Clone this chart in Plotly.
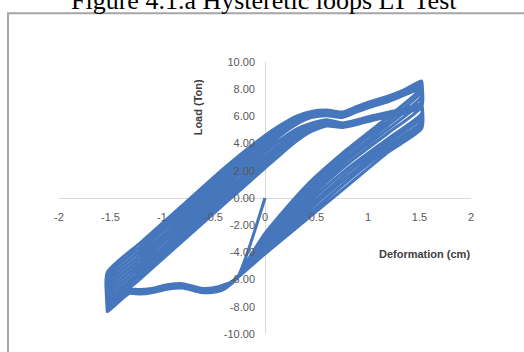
import plotly.graph_objects as go

# ---------------- data ----------------
init_x = [0.0, -0.27]
init_y = [0.0, -5.88]

# lower (negative) wave, shared x
low_x = [-0.4, -0.5, -0.62, -0.8, -0.95, -1.1, -1.22, -1.32]
low_y = [
    [-6.71, -6.92, -6.95, -6.62, -6.70, -6.97, -7.06, -7.02],
    [-6.67, -6.88, -6.92, -6.56, -6.68, -6.93, -7.03, -6.97],
    [-6.64, -6.84, -6.90, -6.54, -6.63, -6.88, -6.99, -6.95],
    [-6.60, -6.81, -6.85, -6.51, -6.60, -6.86, -6.95, -6.90],
    [-6.57, -6.77, -6.83, -6.47, -6.57, -6.82, -6.93, -6.87],
    [-6.53, -6.74, -6.78, -6.44, -6.54, -6.78, -6.88, -6.83],
    [-6.50, -6.70, -6.76, -6.40, -6.50, -6.76, -6.85, -6.80],
    [-6.46, -6.67, -6.71, -6.37, -6.46, -6.71, -6.82, -6.76],
    [-6.43, -6.63, -6.69, -6.33, -6.44, -6.68, -6.78, -6.73],
    [-6.39, -6.60, -6.64, -6.30, -6.39, -6.65, -6.74, -6.69],
]
left_tip_x = -1.53
left_peak = [-8.36, -8.20, -8.05, -7.90, -7.75, -7.60, -7.45, -7.30, -7.15, -7.00]

# upward branches (first value = relaxed load at left tip, last = right peak)
up_x = [-1.53, -1.2, -0.8, -0.4, 0.0, 0.15, 0.3, 0.45, 0.6, 0.75, 0.9, 1.05, 1.2, 1.35, 1.52]
up_y = [
    [-8.10, -5.87, -3.17, -0.47, 2.20, 3.20, 4.15, 4.90, 5.30, 5.18, 5.42, 5.72, 5.98, 6.22, 6.50],
    [-7.80, -5.57, -2.87, -0.17, 2.50, 3.50, 4.40, 5.05, 5.40, 5.26, 5.50, 5.80, 6.05, 6.30, 6.60],
    [-7.55, -5.32, -2.62, 0.08, 2.75, 3.75, 4.60, 5.20, 5.50, 5.34, 5.58, 5.88, 6.13, 6.38, 6.70],
    [-7.25, -5.02, -2.32, 0.38, 3.05, 4.00, 4.82, 5.35, 5.62, 5.43, 5.67, 5.97, 6.22, 6.47, 6.80],
    [-6.95, -4.72, -2.02, 0.68, 3.35, 4.28, 5.05, 5.50, 5.75, 5.52, 5.76, 6.06, 6.31, 6.56, 6.90],
    [-6.65, -4.42, -1.72, 0.98, 3.62, 4.60, 5.40, 5.92, 6.06, 5.92, 6.35, 6.75, 7.10, 7.55, 8.00],
    [-6.35, -4.12, -1.42, 1.28, 3.90, 4.82, 5.55, 6.03, 6.16, 6.02, 6.45, 6.85, 7.20, 7.65, 8.15],
    [-6.05, -3.82, -1.12, 1.58, 4.15, 5.02, 5.70, 6.14, 6.26, 6.12, 6.55, 6.95, 7.30, 7.75, 8.30],
    [-5.75, -3.52, -0.82, 1.88, 4.40, 5.20, 5.85, 6.25, 6.36, 6.22, 6.65, 7.05, 7.40, 7.85, 8.45],
    [-5.45, -3.22, -0.52, 2.18, 4.60, 5.36, 6.00, 6.36, 6.46, 6.32, 6.75, 7.15, 7.50, 7.95, 8.60],
]

# downward branches (first value = relaxed load at right tip)
down_x = [1.52, 1.2, 0.8, 0.4, 0.0, -0.28]
down_y = [
    [5.10, 3.40, 0.90, -1.60, -4.10, -5.95],
    [5.35, 3.65, 1.25, -1.35, -3.95, -5.92],
    [5.60, 3.90, 1.55, -1.05, -3.80, -5.90],
    [5.90, 4.15, 1.85, -0.80, -3.65, -5.88],
    [6.20, 4.40, 2.15, -0.50, -3.50, -5.90],
    [6.70, 4.80, 2.50, -0.20, -3.30, -5.92],
    [7.10, 5.10, 2.80, 0.05, -3.15, -5.94],
    [7.45, 5.40, 3.05, 0.35, -3.00, -5.96],
    [7.80, 5.70, 3.35, 0.60, -2.80, -5.98],
    [8.10, 6.00, 3.60, 0.90, -2.60, -6.00],
]

x_ticks = [-2, -1.5, -1, -0.5, 0, 0.5, 1, 1.5, 2]
y_ticks = [-10, -8, -6, -4, -2, 0, 2, 4, 6, 8, 10]

# ---------------- assemble the continuous test path ----------------
xs = list(init_x)
ys = list(init_y)
for i in range(len(up_y)):
    xs += low_x + [left_tip_x]
    ys += low_y[i] + [left_peak[i]]
    xs += up_x
    ys += up_y[i]
    xs += down_x
    ys += down_y[i]

BLUE = "#4677BD"
fig = go.Figure()
fig.add_trace(go.Scatter(x=xs, y=ys, mode="lines",
                         line=dict(color=BLUE, width=3.1, shape="spline", smoothing=0.6),
                         hoverinfo="skip", showlegend=False))

W, H = 524, 352
L, R, T, B = 59, 53, 62, 14
pw, ph = W - L - R, H - T - B


def px(p):
    return (p - L) / pw


def py(p):
    return (H - B - p) / ph


fig.update_layout(
    width=W, height=H,
    margin=dict(l=L, r=R, t=T, b=B),
    paper_bgcolor="white", plot_bgcolor="white",
    showlegend=False,
    xaxis=dict(range=[-2, 2], tickvals=x_ticks, ticktext=[f"{v:g}" for v in x_ticks],
               anchor="free", position=0.5, showgrid=False, showline=False,
               zeroline=True, zerolinecolor="#d9d9d9", zerolinewidth=1.2,
               ticks="", ticklabelstandoff=11,
               tickfont=dict(family="Liberation Sans", size=11, color="#595959")),
    yaxis=dict(range=[-10, 10], tickvals=y_ticks, ticktext=[f"{v:.2f}" for v in y_ticks],
               anchor="free", position=0.5, showgrid=False, showline=False,
               zeroline=True, zerolinecolor="#d9d9d9", zerolinewidth=1.2,
               ticks="", ticklabelstandoff=10,
               tickfont=dict(family="Liberation Sans", size=11, color="#595959")),
    shapes=[dict(type="rect", xref="paper", yref="paper",
                 x0=px(8), x1=px(560), y0=py(400), y1=py(12.5),
                 line=dict(color="#a6a6a6", width=2), fillcolor="rgba(0,0,0,0)",
                 layer="below")],
    annotations=[
        dict(text="Figure 4.1.a Hysteretic loops LT Test", xref="paper", yref="paper",
             x=px(264), y=py(0), xanchor="center", yanchor="middle", showarrow=False,
             font=dict(family="Liberation Serif", size=26, color="black")),
        dict(text="<b>Load (Ton)</b>", xref="paper", yref="paper",
             x=px(198), y=py(108), xanchor="center", yanchor="middle", textangle=-90,
             showarrow=False, font=dict(family="Liberation Sans", size=11, color="#404040")),
        dict(text="<b>Deformation (cm)</b>", xref="paper", yref="paper",
             x=px(424), y=py(257), xanchor="center", yanchor="middle",
             showarrow=False, font=dict(family="Liberation Sans", size=11, color="#404040")),
    ],
)

fig.write_html("out.html")
